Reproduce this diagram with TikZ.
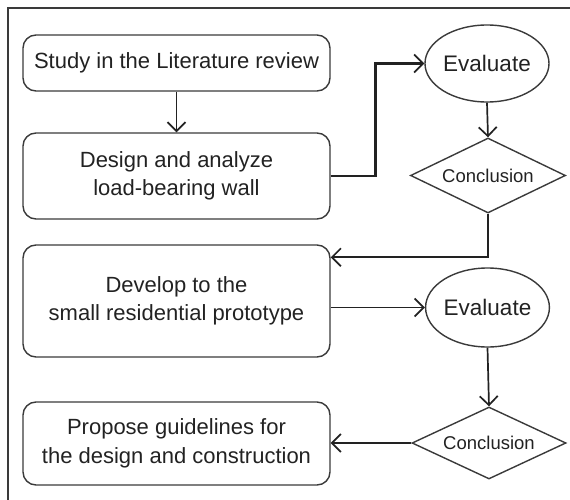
\documentclass[tikz,border=0pt]{standalone}
\usepackage{fontspec}
\setmainfont{Liberation Sans}
\usetikzlibrary{shapes.geometric,arrows.meta}
\definecolor{ink}{HTML}{222222}
\definecolor{edge}{HTML}{3A3A3A}
\begin{document}
\begin{tikzpicture}[x=1pt,y=-1pt,
  box/.style={draw=edge,line width=1.4pt,rounded corners=13pt,minimum width=307pt,
    align=center,text=ink,inner sep=0pt,font=\fontsize{22}{28.5}\selectfont},
  oval/.style={draw=edge,line width=1.4pt,ellipse,inner sep=0pt,text=ink,
    font=\fontsize{22.5}{27}\selectfont},
  decide/.style={draw=edge,line width=1.4pt,diamond,inner sep=0pt,text=ink,
    font=\fontsize{18.5}{22}\selectfont},
  conn/.style={draw=ink,line width=1.7pt,-{Straight Barb[length=9pt,width=18pt,line width=1.7pt]}},
  thickconn/.style={conn,line width=2.5pt}]
\useasboundingbox (0,0) rectangle (570,500);
\draw[edge,line width=1.2pt] (8,500) -- (8,8) -- (570,8);
\node[box,minimum height=56pt] (b1) at (176.5,63) {Study in the Literature review};
\node[box,minimum height=86pt] (b2) at (176.5,176) {Design and analyze\\load-bearing wall};
\node[box,minimum height=112pt] (b3) at (176.5,301) {Develop to the\\small residential prototype};
\node[box,minimum height=83pt] (b4) at (176.5,443.5) {Propose guidelines for\\the design and construction};
\node[oval,minimum width=124pt,minimum height=77pt] (e1) at (487,63.5) {Evaluate};
\node[decide,aspect=2.07,minimum width=155pt,minimum height=75pt] (d1) at (488,175.5) {Conclusion};
\node[oval,minimum width=123pt,minimum height=79pt] (e2) at (487.5,307.5) {Evaluate};
\node[decide,aspect=2.14,minimum width=154pt,minimum height=72pt] (d2) at (489,443) {Conclusion};
\draw[conn] (b1.south) -- (b2.north);
\draw[thickconn] (b2.east) -- ++(45,0) |- (e1.west);
\draw[conn] (e1.south) -- (d1.north);
\draw[conn] (d1.south) |- ([yshift=-13pt]b3.north east);
\draw[conn] (b3.east |- e2.west) -- (e2.west);
\draw[conn] (e2.south) -- (d2.north);
\draw[conn] (d2.west) -- (d2.west -| b4.east);
\end{tikzpicture}
\end{document}
